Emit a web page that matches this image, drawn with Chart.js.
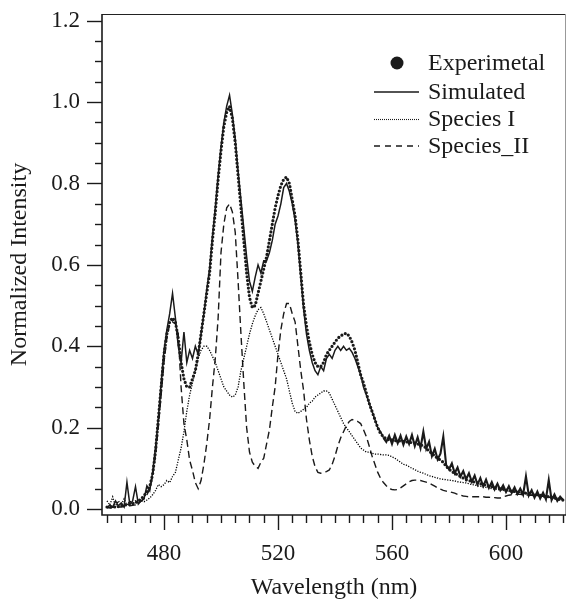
<!DOCTYPE html>
<html><head><meta charset="utf-8">
<script src="https://cdn.jsdelivr.net/npm/chart.js@4.4.1/dist/chart.umd.min.js"></script>
<style>html,body{margin:0;padding:0;background:#fff;}canvas{display:block;}</style>
</head><body>
<canvas id="c" width="568" height="600"></canvas>
<script>
const wavelength = [
460,461,462,463,464,465,466,467,468,469,
470,471,472,473,474,475,476,477,478,479,
480,481,482,483,484,485,486,487,488,489,
490,491,492,493,494,495,496,497,498,499,
500,501,502,503,504,505,506,507,508,509,
510,511,512,513,514,515,516,517,518,519,
520,521,522,523,524,525,526,527,528,529,
530,531,532,533,534,535,536,537,538,539,
540,541,542,543,544,545,546,547,548,549,
550,551,552,553,554,555,556,557,558,559,
560,561,562,563,564,565,566,567,568,569,
570,571,572,573,574,575,576,577,578,579,
580,581,582,583,584,585,586,587,588,589,
590,591,592,593,594,595,596,597,598,599,
600,601,602,603,604,605,606,607,608,609,
610,611,612,613,614,615,616,617,618,619,
620];

const experimental = [
0.005,0.004,0.006,0.005,0.006,0.008,0.010,0.010,0.012,0.013,
0.015,0.020,0.025,0.033,0.042,0.055,0.085,0.140,0.220,0.300,
0.380,0.430,0.460,0.470,0.460,0.420,0.360,0.320,0.300,0.300,
0.320,0.340,0.380,0.430,0.480,0.530,0.580,0.660,0.730,0.810,
0.880,0.940,0.975,0.990,0.960,0.900,0.820,0.740,0.660,0.580,
0.520,0.495,0.500,0.530,0.560,0.590,0.620,0.660,0.700,0.740,
0.770,0.795,0.810,0.816,0.800,0.760,0.720,0.660,0.580,0.500,
0.450,0.410,0.380,0.360,0.350,0.350,0.360,0.380,0.390,0.400,
0.410,0.420,0.425,0.430,0.432,0.425,0.410,0.390,0.360,0.330,
0.310,0.285,0.260,0.240,0.220,0.200,0.185,0.178,0.172,0.170,
0.170,0.168,0.168,0.167,0.166,0.165,0.164,0.163,0.162,0.160,
0.158,0.155,0.150,0.142,0.137,0.130,0.125,0.120,0.115,0.105,
0.098,0.092,0.088,0.084,0.080,0.076,0.072,0.070,0.068,0.066,
0.064,0.062,0.060,0.058,0.056,0.055,0.054,0.052,0.050,0.049,
0.047,0.046,0.044,0.043,0.042,0.041,0.040,0.039,0.038,0.037,
0.036,0.035,0.034,0.032,0.031,0.030,0.028,0.027,0.025,0.023,
0.022];

const simulated = [
0.003,0.010,0.005,0.020,0.008,0.015,0.005,0.066,0.012,0.020,
0.055,0.012,0.020,0.025,0.057,0.045,0.090,0.150,0.220,0.310,
0.390,0.440,0.480,0.530,0.470,0.400,0.360,0.435,0.360,0.390,
0.370,0.400,0.380,0.430,0.480,0.540,0.590,0.670,0.740,0.820,
0.890,0.950,0.990,1.017,0.970,0.910,0.830,0.760,0.690,0.620,
0.560,0.535,0.570,0.600,0.580,0.610,0.610,0.630,0.660,0.700,
0.720,0.750,0.790,0.800,0.780,0.750,0.710,0.650,0.570,0.490,
0.430,0.390,0.360,0.340,0.330,0.350,0.340,0.370,0.380,0.370,
0.390,0.400,0.390,0.400,0.390,0.395,0.385,0.370,0.350,0.330,
0.300,0.280,0.260,0.240,0.220,0.200,0.190,0.175,0.165,0.180,
0.160,0.182,0.162,0.180,0.158,0.178,0.160,0.182,0.155,0.176,
0.150,0.190,0.148,0.165,0.130,0.148,0.122,0.136,0.178,0.108,
0.098,0.112,0.088,0.102,0.080,0.093,0.073,0.088,0.067,0.082,
0.060,0.076,0.056,0.072,0.052,0.066,0.048,0.062,0.046,0.058,
0.042,0.056,0.040,0.053,0.037,0.050,0.035,0.080,0.033,0.046,
0.028,0.043,0.026,0.040,0.024,0.071,0.022,0.036,0.020,0.030,
0.022];

const speciesI = [
0.020,0.010,0.030,0.005,0.020,0.010,0.025,0.010,0.020,0.012,
0.020,0.015,0.020,0.018,0.022,0.027,0.035,0.045,0.060,0.055,
0.060,0.070,0.065,0.080,0.090,0.120,0.150,0.190,0.240,0.280,
0.310,0.340,0.370,0.390,0.400,0.400,0.390,0.375,0.360,0.340,
0.320,0.300,0.290,0.280,0.275,0.280,0.300,0.340,0.370,0.400,
0.430,0.455,0.475,0.490,0.495,0.480,0.460,0.440,0.420,0.400,
0.380,0.360,0.340,0.320,0.290,0.260,0.240,0.235,0.240,0.245,
0.250,0.260,0.265,0.275,0.280,0.285,0.290,0.290,0.285,0.270,
0.255,0.240,0.225,0.210,0.200,0.190,0.180,0.170,0.160,0.150,
0.145,0.140,0.140,0.137,0.135,0.135,0.134,0.133,0.133,0.132,
0.128,0.125,0.120,0.115,0.110,0.108,0.104,0.100,0.097,0.093,
0.090,0.088,0.085,0.082,0.080,0.078,0.076,0.074,0.073,0.072,
0.071,0.070,0.069,0.067,0.066,0.065,0.064,0.062,0.060,0.059,
0.057,0.056,0.054,0.053,0.052,0.050,0.049,0.048,0.047,0.046,
0.045,0.044,0.043,0.042,0.041,0.040,0.039,0.038,0.037,0.036,
0.035,0.034,0.033,0.032,0.031,0.030,0.029,0.028,0.027,0.026,
0.025];

const speciesII = [
0.003,0.003,0.004,0.004,0.005,0.005,0.006,0.007,0.008,0.009,
0.010,0.015,0.020,0.025,0.035,0.050,0.080,0.130,0.200,0.280,
0.360,0.420,0.455,0.460,0.455,0.430,0.300,0.210,0.170,0.120,
0.095,0.065,0.050,0.070,0.110,0.160,0.220,0.300,0.370,0.470,
0.630,0.700,0.740,0.750,0.730,0.680,0.560,0.430,0.310,0.200,
0.140,0.115,0.105,0.100,0.115,0.125,0.160,0.195,0.250,0.300,
0.380,0.440,0.480,0.505,0.505,0.480,0.460,0.400,0.340,0.290,
0.220,0.170,0.130,0.104,0.090,0.088,0.090,0.092,0.096,0.110,
0.130,0.155,0.175,0.190,0.205,0.215,0.220,0.218,0.215,0.210,
0.195,0.178,0.155,0.130,0.110,0.090,0.075,0.065,0.057,0.050,
0.048,0.047,0.048,0.052,0.057,0.062,0.067,0.070,0.071,0.071,
0.070,0.068,0.066,0.064,0.060,0.056,0.052,0.049,0.046,0.044,
0.043,0.041,0.039,0.036,0.034,0.032,0.031,0.030,0.030,0.030,
0.030,0.030,0.030,0.029,0.029,0.028,0.028,0.027,0.027,0.030,
0.032,0.034,0.035,0.035,0.036,0.036,0.035,0.035,0.034,0.034,
0.033,0.033,0.032,0.031,0.030,0.029,0.028,0.027,0.026,0.025,
0.025];

const xLabelTicks = [480, 520, 560, 600];
const xMinorTicks = [460,465,470,475,480,485,490,495,500,505,510,515,520,525,530,535,540,545,550,555,560,565,570,575,580,585,590,595,600,605,610,615,620];
const yLabelTicks = [0, 0.2, 0.4, 0.6, 0.8, 1.0, 1.2];
const yMinorTicks = [0,0.05,0.1,0.15,0.2,0.25,0.3,0.35,0.4,0.45,0.5,0.55,0.6,0.65,0.7,0.75,0.8,0.85,0.9,0.95,1.0,1.05,1.1,1.15,1.2];
const seriesNames = ['Experimetal', 'Simulated', 'Species I', 'Species_II'];

const pts = arr => wavelength.map((w, i) => ({x: w, y: arr[i]}));
const FONT = '"Liberation Serif", "Times New Roman", serif';
const INK = '#1a1a1a';

const framePlugin = {
  id: 'frame',
  afterDraw(chart) {
    const {ctx, chartArea: a, scales: {x, y}} = chart;
    ctx.save();
    ctx.lineWidth = 1;
    ctx.strokeStyle = '#222';
    ctx.beginPath(); ctx.moveTo(a.left, a.top + 0.5); ctx.lineTo(a.right, a.top + 0.5); ctx.stroke();
    ctx.strokeStyle = '#999';
    ctx.beginPath(); ctx.moveTo(a.right - 0.5, a.top); ctx.lineTo(a.right - 0.5, a.bottom); ctx.stroke();
    ctx.strokeStyle = INK; ctx.lineWidth = 1.6;
    ctx.beginPath(); ctx.moveTo(a.left, a.top); ctx.lineTo(a.left, a.bottom); ctx.lineTo(a.right, a.bottom); ctx.stroke();
    ctx.lineWidth = 1.4;
    xMinorTicks.forEach(v => {
      const px = Math.round(x.getPixelForValue(v)) + 0.5;
      const len = xLabelTicks.includes(v) ? 15 : 8;
      ctx.beginPath(); ctx.moveTo(px, a.bottom); ctx.lineTo(px, a.bottom + len); ctx.stroke();
    });
    yMinorTicks.forEach(v => {
      const py = Math.round(y.getPixelForValue(v)) + 0.5;
      const major = yLabelTicks.some(t => Math.abs(t - v) < 1e-9);
      const len = major ? 15 : 7;
      ctx.beginPath(); ctx.moveTo(a.left, py); ctx.lineTo(a.left - len, py); ctx.stroke();
    });
    // legend
    const rows = [a.top + 49, a.top + 78, a.top + 105, a.top + 132];
    const lx0 = a.right - 192, lx1 = a.right - 147, tx = a.right - 138;
    ctx.fillStyle = INK;
    ctx.beginPath(); ctx.arc(a.right - 169, rows[0], 6.5, 0, Math.PI * 2); ctx.fill();
    ctx.strokeStyle = INK;
    ctx.lineWidth = 1.5; ctx.setLineDash([]);
    ctx.beginPath(); ctx.moveTo(lx0, rows[1]); ctx.lineTo(lx1, rows[1]); ctx.stroke();
    ctx.lineWidth = 1.1; ctx.setLineDash([1, 1]);
    ctx.beginPath(); ctx.moveTo(lx0, rows[2] + 0.5); ctx.lineTo(lx1, rows[2] + 0.5); ctx.stroke();
    ctx.lineWidth = 1.4; ctx.setLineDash([6, 5]);
    ctx.beginPath(); ctx.moveTo(lx0, rows[3]); ctx.lineTo(lx1, rows[3]); ctx.stroke();
    ctx.setLineDash([]);
    ctx.font = '24px ' + FONT;
    ctx.textBaseline = 'middle';
    ctx.textAlign = 'left';
    seriesNames.forEach((n, i) => ctx.fillText(n, tx, rows[i] + 1));
    ctx.restore();
  }
};

new Chart(document.getElementById('c'), {
  type: 'scatter',
  data: {
    datasets: [
      {label: seriesNames[0], data: pts(experimental), showLine: true, borderColor: INK, borderWidth: 3.2, borderDash: [0, 3.8], borderCapStyle: 'round', pointRadius: 0, tension: 0},
      {label: seriesNames[1], data: pts(simulated), showLine: true, borderColor: INK, borderWidth: 1.5, pointRadius: 0, tension: 0,
       segment: {borderWidth: c => (c.p0.parsed.x >= 557 ? 2.1 : 1.5)}},
      {label: seriesNames[2], data: pts(speciesI), showLine: true, borderColor: '#000', borderWidth: 1.3, borderDash: [1.2, 1.4], pointRadius: 0, tension: 0},
      {label: seriesNames[3], data: pts(speciesII), showLine: true, borderColor: INK, borderWidth: 1.4, borderDash: [7, 4], pointRadius: 0, tension: 0}
    ]
  },
  options: {
    responsive: false,
    animation: false,
    devicePixelRatio: 1,
    layout: {padding: {top: 14, right: 2, left: 0, bottom: 0}},
    plugins: {legend: {display: false}, tooltip: {enabled: false}},
    scales: {
      x: {
        type: 'linear', min: 458.25, max: 621.05,
        afterBuildTicks: s => { s.ticks = xLabelTicks.map(v => ({value: v})); },
        afterFit: s => { s.height = 85; },
        grid: {display: false, drawTicks: true, tickLength: 25},
        border: {display: false},
        ticks: {font: {family: FONT, size: 23}, color: INK, padding: 0, maxRotation: 0, callback: v => String(v)},
        title: {display: true, text: 'Wavelength (nm)', color: INK, font: {family: FONT, size: 24, lineHeight: 1}, padding: {top: 0, bottom: 0}}
      },
      y: {
        type: 'linear', min: -0.0147, max: 1.2165,
        afterBuildTicks: s => { s.ticks = yLabelTicks.map(v => ({value: v})); },
        afterFit: s => { s.width = 102; },
        grid: {display: false, drawTicks: true, tickLength: 22},
        border: {display: false},
        ticks: {font: {family: FONT, size: 23}, color: INK, padding: 0, callback: v => v.toFixed(1)},
        title: {display: true, text: 'Normalized Intensity', color: INK, font: {family: FONT, size: 24, lineHeight: 1}, padding: {top: 8, bottom: 0}}
      }
    }
  },
  plugins: [framePlugin]
});
</script>
</body></html>
